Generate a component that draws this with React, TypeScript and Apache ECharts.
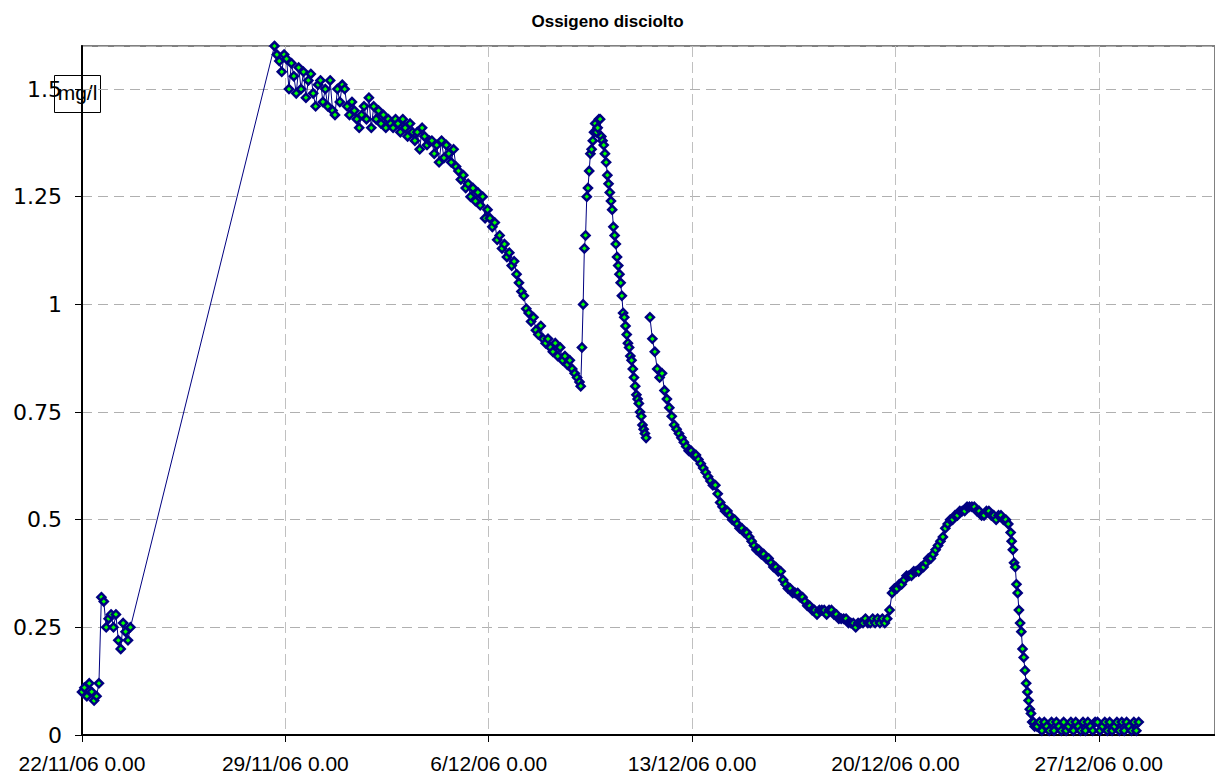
import React, { useEffect, useRef } from "react";
import * as echarts from "echarts";

// ---- texts ----
const TITLE = "Ossigeno disciolto";
const UNIT_LABEL = "mg/l";
const X_TICK_LABELS = [
  "22/11/06 0.00",
  "29/11/06 0.00",
  "6/12/06 0.00",
  "13/12/06 0.00",
  "20/12/06 0.00",
  "27/12/06 0.00",
];
const X_TICK_STEP_DAYS = 7;
const X_MAX_DAYS = 39;
const Y_MAX = 1.6;
const Y_STEP = 0.25;

// ---- data: day offsets from 22/11/06 0.00, sampled at fixed steps ----
const HOUR = 1 / 24;

const seg0Start = 0;
const seg0Step = 2 * HOUR;
const seg0Values = [
  0.10, 0.11, 0.09, 0.12, 0.10, 0.08, 0.09, 0.12, 0.32, 0.31,
  0.25, 0.27, 0.28, 0.25, 0.28, 0.22, 0.20, 0.26, 0.24, 0.22, 0.25,
];

const seg1Start = 6.625;
const seg1Step = 2 * HOUR;
const seg1Values = [
  1.60, 1.58, 1.565, 1.54, 1.58,
  1.57, 1.50, 1.56, 1.53, 1.49, 1.55, 1.50, 1.54, 1.48, 1.52, 1.535, 1.49,
  1.46, 1.51, 1.52, 1.47, 1.50, 1.46, 1.52, 1.45, 1.44, 1.50, 1.47, 1.51,
  1.50, 1.46, 1.44, 1.47, 1.45, 1.43, 1.41, 1.44, 1.46, 1.43, 1.48, 1.41,
  1.46, 1.43, 1.45, 1.42, 1.44, 1.41, 1.43, 1.42, 1.41, 1.43, 1.42, 1.40,
  1.43, 1.41, 1.39, 1.42, 1.40, 1.38, 1.40, 1.36, 1.41, 1.39, 1.37, 1.38,
  1.38, 1.35, 1.37, 1.33, 1.38, 1.34, 1.37, 1.35, 1.33, 1.36, 1.32, 1.31,
  1.29, 1.30, 1.27, 1.28, 1.25, 1.27, 1.24, 1.26, 1.23, 1.25, 1.20, 1.22,
  1.20, 1.18, 1.19, 1.15, 1.16, 1.13, 1.14, 1.11, 1.12, 1.09, 1.10, 1.07,
  1.05, 1.03, 1.02, 0.99, 0.98, 0.96, 0.97, 0.94, 0.93, 0.95, 0.92, 0.91,
  0.92, 0.90, 0.89, 0.91, 0.88, 0.90, 0.87, 0.88, 0.86, 0.87, 0.85, 0.84,
  0.83, 0.82,
];

const seg2Start = 17.167;
const seg2Step = HOUR;
const seg2Values = [
  0.81, 0.90, 1.00, 1.13, 1.16, 1.25, 1.27, 1.31, 1.35, 1.36,
  1.38, 1.40, 1.42, 1.40, 1.41, 1.43, 1.43,
  1.39, 1.38, 1.37, 1.35, 1.33, 1.30, 1.28, 1.26, 1.24, 1.22,
  1.18, 1.16, 1.14, 1.11, 1.09, 1.07, 1.05, 1.02, 0.98, 0.97,
  0.95, 0.93, 0.91, 0.90, 0.88, 0.87, 0.85, 0.83, 0.81, 0.79,
  0.78, 0.77, 0.75, 0.74, 0.72, 0.71, 0.70, 0.69,
];

const gapDay = 19.5;

const seg3Start = 19.55;
const seg3Step = 2 * HOUR;
const seg3Values = [
  0.97, 0.92, 0.89, 0.85, 0.83, 0.84, 0.80, 0.78, 0.76, 0.74,
  0.72, 0.71, 0.70, 0.69, 0.68, 0.67, 0.66, 0.66, 0.65, 0.65,
  0.64, 0.63, 0.62, 0.61, 0.60, 0.59, 0.58, 0.58, 0.56, 0.54,
  0.53, 0.52, 0.52, 0.51, 0.50, 0.50, 0.49, 0.48, 0.48, 0.47,
  0.47, 0.46, 0.45, 0.44, 0.43, 0.43, 0.42, 0.42, 0.41, 0.41,
  0.40, 0.39, 0.39, 0.38, 0.38, 0.36, 0.35, 0.34, 0.34, 0.33,
  0.33, 0.33, 0.32, 0.32, 0.31, 0.30, 0.30, 0.29, 0.29, 0.28,
  0.29, 0.29, 0.29, 0.28, 0.29, 0.29, 0.28, 0.28, 0.27, 0.27,
  0.27, 0.27, 0.26, 0.26, 0.26, 0.25, 0.26, 0.26, 0.26, 0.27,
  0.26, 0.26, 0.27, 0.26, 0.27, 0.26, 0.27, 0.26, 0.27, 0.29,
  0.33, 0.34, 0.34, 0.35, 0.35, 0.36, 0.37, 0.37, 0.37, 0.38,
  0.38, 0.38, 0.39, 0.39, 0.40, 0.41, 0.41, 0.42, 0.43, 0.44,
  0.45, 0.46, 0.48, 0.49, 0.50, 0.50, 0.51, 0.51, 0.52, 0.52,
  0.52, 0.53, 0.53, 0.53, 0.53, 0.52, 0.52, 0.51, 0.51, 0.52,
  0.52, 0.51, 0.51, 0.50, 0.51, 0.51, 0.50, 0.50, 0.49, 0.47,
];

const seg4Start = 32.0;
const seg4Step = HOUR;
const seg4Values = [
  0.45, 0.43, 0.40, 0.39, 0.35, 0.33, 0.29, 0.26, 0.24, 0.20,
  0.18, 0.15, 0.12, 0.10, 0.08, 0.06, 0.05, 0.03, 0.03, 0.02,
];

const seg5Start = 32.875;
const seg5Step = 2 * HOUR;
const seg5Values = [
  0.02, 0.03, 0.01, 0.03, 0.02, 0.01, 0.03, 0.01, 0.03, 0.02,
  0.01, 0.03, 0.01, 0.02, 0.03, 0.01, 0.03, 0.02, 0.01, 0.03,
  0.01, 0.03, 0.02, 0.01, 0.03, 0.03, 0.01, 0.02, 0.03, 0.01,
  0.03, 0.01, 0.02, 0.03, 0.01, 0.03, 0.01, 0.03, 0.02, 0.01,
  0.03, 0.01, 0.03,
];

function seg(start: number, step: number, vals: number[]): (number | string)[][] {
  return vals.map((v, i) => [start + i * step, v]);
}

const LABEL_FONT = "Liberation Sans";

export default function App() {
  const ref = useRef<HTMLDivElement>(null);

  useEffect(() => {
    if (!ref.current) return;
    const chart = echarts.init(ref.current, undefined, { renderer: "svg" });

    const data = [
      ...seg(seg0Start, seg0Step, seg0Values),
      ...seg(seg1Start, seg1Step, seg1Values),
      ...seg(seg2Start, seg2Step, seg2Values),
      [gapDay, "-"],
      ...seg(seg3Start, seg3Step, seg3Values),
      ...seg(seg4Start, seg4Step, seg4Values),
      ...seg(seg5Start, seg5Step, seg5Values),
    ];

    chart.setOption({
      animation: false,
      backgroundColor: "#ffffff",
      title: {
        text: TITLE,
        left: "center",
        top: 8,
        textStyle: {
          fontFamily: LABEL_FONT,
          fontWeight: "bold",
          fontSize: 17,
          color: "#000",
        },
      },
      grid: {
        left: 82,
        top: 46,
        right: -4,
        bottom: 43,
        show: true,
        borderColor: "#808080",
        borderWidth: 2,
        backgroundColor: "transparent",
      },
      xAxis: {
        type: "value",
        min: 0,
        max: X_MAX_DAYS,
        interval: X_TICK_STEP_DAYS,
        axisLine: { lineStyle: { color: "#000", width: 2 } },
        axisTick: { show: true, length: 7, lineStyle: { color: "#000", width: 1 } },
        axisLabel: {
          showMaxLabel: false,
          formatter: (v: number) =>
            v % X_TICK_STEP_DAYS === 0 ? X_TICK_LABELS[v / X_TICK_STEP_DAYS] ?? "" : "",
          fontFamily: LABEL_FONT,
          fontSize: 21,
          color: "#000",
          margin: 18,
        },
        splitLine: {
          show: true,
          lineStyle: { color: "#c0c0c0", type: [11, 5], width: 1 },
        },
      },
      yAxis: {
        type: "value",
        min: 0,
        max: Y_MAX,
        interval: Y_STEP,
        axisLine: { show: true, lineStyle: { color: "#000", width: 2 } },
        axisTick: { show: true, length: 7, lineStyle: { color: "#000", width: 1 } },
        axisLabel: {
          showMaxLabel: false,
          formatter: (v: number) => (v > Y_MAX - 0.05 ? "" : String(v)),
          fontFamily: "DejaVu Sans",
          fontSize: 22,
          color: "#000",
          margin: 20,
        },
        splitLine: {
          show: true,
          lineStyle: { color: "#b0b0b0", type: [10, 6], width: 1 },
        },
      },
      graphic: [
        {
          type: "group",
          left: 54,
          top: 75,
          z: 100,
          children: [
            {
              type: "rect",
              shape: { x: 0, y: 0, width: 46, height: 37 },
              style: { fill: "#fff", stroke: "#000", lineWidth: 1 },
            },
            {
              type: "text",
              x: 23,
              y: 17,
              style: {
                text: UNIT_LABEL,
                fill: "#000",
                fontFamily: LABEL_FONT,
                fontSize: 21,
                align: "center",
                verticalAlign: "middle",
              },
            },
          ],
        },
      ],
      series: [
        {
          type: "line",
          data,
          showAllSymbol: true,
          symbol: "diamond",
          symbolSize: 8,
          connectNulls: false,
          lineStyle: { color: "#000080", width: 1 },
          itemStyle: { color: "#00ff00", borderColor: "#000080", borderWidth: 2.5 },
          emphasis: { disabled: true },
        },
      ],
    });

    return () => chart.dispose();
  }, []);

  return (
    <div
      ref={ref}
      style={{
        position: "fixed",
        left: 0,
        top: 0,
        width: 1215,
        height: 778,
        background: "#fff",
      }}
    />
  );
}
